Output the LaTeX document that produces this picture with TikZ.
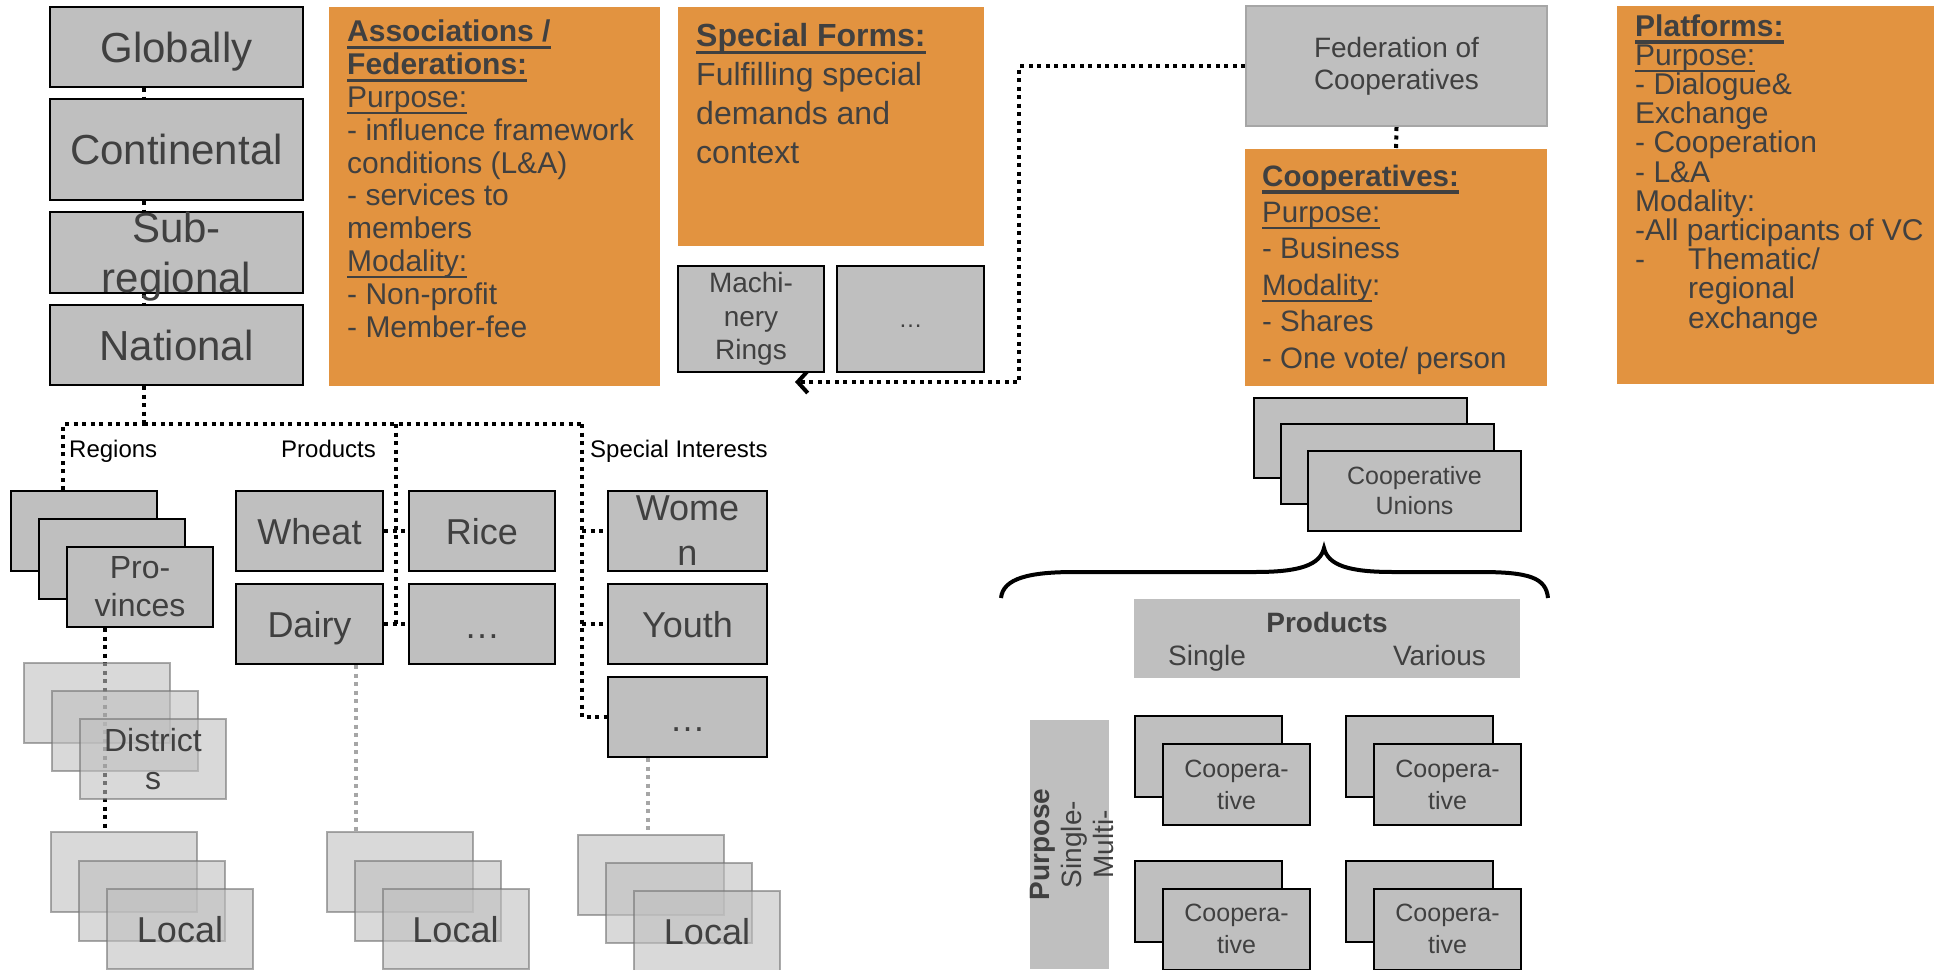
\documentclass[tikz,border=0pt]{standalone}
\usepackage{fontspec}
\setmainfont{Liberation Sans}
\usetikzlibrary{arrows.meta,backgrounds}

\definecolor{boxgray}{RGB}{191,191,191}
\definecolor{txtgray}{RGB}{64,64,64}
\definecolor{orangefill}{RGB}{226,147,64}
\definecolor{edgegray}{RGB}{166,166,166}

\newcommand{\fsz}[2]{\fontsize{#1pt}{#2pt}\selectfont}
\newsavebox{\ulinebox}
\newcommand{\ulthin}[1]{\sbox{\ulinebox}{#1}\rlap{\rule[-6.5pt]{\wd\ulinebox}{2.2pt}}\usebox{\ulinebox}}
\newcommand{\ulthick}[1]{\sbox{\ulinebox}{\bfseries #1}\rlap{\rule[-7.5pt]{\wd\ulinebox}{3.5pt}}\usebox{\ulinebox}}

\tikzstyle{tierbox} = [rectangle, draw=black, line width=2pt, fill=boxgray, text=txtgray, align=center, inner sep=0pt, minimum width=146pt, minimum height=80pt]
\tikzstyle{faintbox} = [rectangle, draw=black!55, draw opacity=0.6, line width=2pt, fill=boxgray, fill opacity=0.6, text opacity=1, text=txtgray, align=center, inner sep=0pt, minimum width=146pt, minimum height=80pt]
\tikzstyle{infobox} = [rectangle, fill=orangefill, inner sep=0pt]
\tikzstyle{infotext} = [anchor=base west, align=left, text=txtgray, inner sep=0pt]
\tikzstyle{flatbox} = [rectangle, fill=boxgray, text=txtgray, align=center, inner sep=0pt]
\tikzstyle{oneline} = [text height=33pt, text depth=6pt]
\tikzstyle{dotline} = [line width=4pt, dash pattern=on 4pt off 4.5pt]
\tikzstyle{greydot} = [dotline, draw=edgegray]
\tikzstyle{arrow} = [dotline, -{Straight Barb[length=10pt,width=22pt]}]
\tikzstyle{grouplabel} = [anchor=base west, inner sep=0pt, font=\fsz{24}{28}]

\begin{document}
\begin{tikzpicture}[x=1pt, y=-1pt]
\useasboundingbox (0,0) rectangle (1946,969);

\node (glob) [tierbox, minimum width=253pt, font=\fsz{42}{50}, text height=39pt, text depth=9pt] at (176.5,47) {Globally};
\node (cont) [tierbox, minimum width=253pt, minimum height=101pt, font=\fsz{42}{50}, text height=39pt, text depth=9pt] at (176.5,149.5) {Continental};
\node (subr) [tierbox, minimum width=253pt, minimum height=81pt, font=\fsz{42}{50}, text height=80pt, text depth=1pt] at (176.5,252.5) {Sub-\\regional};
\node (nat) [tierbox, minimum width=253pt, font=\fsz{42}{50}, text height=39pt, text depth=9pt] at (176.5,345) {National};

\node (assoc) [infobox, minimum width=331pt, minimum height=379pt] at (494.5,196.5) {};
\node (assocTxt) [infotext, font=\fsz{30}{32.8}] at (347,337) {\ulthick{Associations /}\\\ulthick{Federations:}\\\ulthin{Purpose:}\\- influence framework\\conditions (L\&A)\\- services to\\members\\\ulthin{Modality:}\\- Non-profit\\- Member-fee};

\node (specForms) [infobox, minimum width=306pt, minimum height=239pt] at (831,126.5) {};
\node (specTxt) [infotext, font=\fsz{32}{38.7}] at (696,163) {\ulthick{Special Forms:}\\Fulfilling special\\demands and\\context};
\node (rings) [tierbox, minimum height=106pt, font=\fsz{28}{33.5}] at (751,319) {Machi-\\nery\\Rings};
\node (dotsF) [tierbox, minimum width=147pt, minimum height=106pt, font=\fsz{24}{28}, text height=18pt, text depth=2pt] at (910.5,319) {…};

\node (fed) [tierbox, draw=edgegray, minimum width=301pt, minimum height=120pt, font=\fsz{28}{32}] at (1396.5,66) {Federation of\\Cooperatives};
\node (coopBox) [infobox, minimum width=302pt, minimum height=237pt] at (1396,267.5) {};
\node (coopTxt) [infotext, font=\fsz{29.5}{36.4}] at (1262,368) {\ulthick{Cooperatives:}\\\ulthin{Purpose:}\\- Business\\\ulthin{Modality}:\\- Shares\\- One vote/ person};

\node (platforms) [infobox, minimum width=317pt, minimum height=378pt] at (1775.5,195) {};
\node (platTxt) [infotext, font=\fsz{30}{29.2}] at (1635,328) {\ulthick{Platforms:}\\\ulthin{Purpose:}\\- Dialogue\&\\Exchange\\- Cooperation\\- L\&A\\Modality:\\-All participants of VC\\\makebox[53pt][l]{-}Thematic/\\\hspace*{53pt}regional\\\hspace*{53pt}exchange};

\node (regionsLbl) [grouplabel] at (69,457) {Regions};
\node (productsLbl) [grouplabel] at (281,457) {Products};
\node (interestsLbl) [grouplabel] at (590,457) {Special Interests};

\node (prov1) [tierbox] at (84,531) {};
\node (prov2) [tierbox] at (112,559) {};
\node (prov3) [tierbox, font=\fsz{32}{38}] at (140,587) {Pro-\\vinces};

\node (wheat) [tierbox, minimum width=147pt, font=\fsz{36}{45}, oneline] at (309.5,531) {Wheat};
\node (rice) [tierbox, font=\fsz{36}{45}, oneline] at (482,531) {Rice};
\node (dairy) [tierbox, minimum width=147pt, font=\fsz{36}{45}, oneline] at (309.5,624) {Dairy};
\node (dotsP) [tierbox, font=\fsz{36}{45}, text height=28pt, text depth=0pt] at (482,624) {…};

\node (women) [tierbox, minimum width=159pt, font=\fsz{36}{45}] at (687.5,531) {Wome\\n};
\node (youth) [tierbox, minimum width=159pt, font=\fsz{36}{45}, oneline] at (687.5,624) {Youth};
\node (dotsS) [tierbox, minimum width=159pt, font=\fsz{36}{45}, text height=28pt, text depth=0pt] at (687.5,717) {…};

\node (dist1) [faintbox] at (97,703) {};
\node (dist2) [faintbox] at (125,731) {};
\node (dist3) [faintbox, font=\fsz{32}{38}] at (153,759) {District\\s};

\node (loc1a) [faintbox] at (124,872) {};
\node (loc1b) [faintbox] at (152,901) {};
\node (loc1c) [faintbox, font=\fsz{36}{45}, oneline] at (180,929) {Local};
\node (loc2a) [faintbox] at (399.5,872) {};
\node (loc2b) [faintbox] at (427.5,901) {};
\node (loc2c) [faintbox, font=\fsz{36}{45}, oneline] at (455.5,929) {Local};
\node (loc3a) [faintbox] at (651,875) {};
\node (loc3b) [faintbox] at (679,903) {};
\node (loc3c) [faintbox, font=\fsz{36}{45}, oneline] at (707,931) {Local};

\node (un1) [tierbox, minimum width=213pt] at (1360.5,438) {};
\node (un2) [tierbox, minimum width=213pt] at (1387.5,464) {};
\node (un3) [tierbox, minimum width=213pt, font=\fsz{25}{30}] at (1414.5,491) {Cooperative\\Unions};

\draw [line width=4pt] (1001,598) .. controls (1003,578) and (1030,572) .. (1075,572) -- (1255,572) .. controls (1300,572) and (1320,565) .. (1324,548) .. controls (1328,565) and (1348,572) .. (1393,572) -- (1480,572) .. controls (1530,572) and (1546,578) .. (1548,598);

\node (prodHead) [flatbox, minimum width=386pt, minimum height=79pt, text height=60pt, text depth=7pt, font=\fsz{28}{33}] at (1327,638.5) {\textbf{Products}\\Single\hspace{147pt}Various};
\node (purposeSide) [flatbox, minimum width=79pt, minimum height=249pt] at (1069.5,844.5) {};
\node (purposeTxt) [rotate=90, anchor=base, align=center, inner sep=0pt, text=txtgray, font=\fsz{28}{32}] at (1113,844.5) {\textbf{Purpose}\\Single-\\Multi-};

\node (coopA1) [tierbox, minimum width=147pt, minimum height=81pt] at (1208.5,756.5) {};
\node (coopA2) [tierbox, minimum width=147pt, minimum height=81pt, font=\fsz{25}{32}] at (1236.5,784.5) {Coopera-\\tive};
\node (coopB1) [tierbox, minimum width=147pt, minimum height=81pt] at (1419.5,756.5) {};
\node (coopB2) [tierbox, minimum width=147pt, minimum height=81pt, font=\fsz{25}{32}] at (1447.5,784.5) {Coopera-\\tive};
\node (coopC1) [tierbox, minimum width=147pt, minimum height=81pt] at (1208.5,901.5) {};
\node (coopC2) [tierbox, minimum width=147pt, minimum height=81pt, font=\fsz{25}{32}] at (1236.5,929) {Coopera-\\tive};
\node (coopD1) [tierbox, minimum width=147pt, minimum height=81pt] at (1419.5,901.5) {};
\node (coopD2) [tierbox, minimum width=147pt, minimum height=81pt, font=\fsz{25}{32}] at (1447.5,929) {Coopera-\\tive};

\begin{pgfonlayer}{background}
\draw [dotline] ([xshift=-33pt]glob.south) -- ([xshift=-33pt]cont.north);
\draw [dotline] ([xshift=-33pt]cont.south) -- ([xshift=-33pt]subr.north);
\draw [dotline] ([xshift=-33pt]subr.south) -- ([xshift=-33pt]nat.north);
\coordinate (bus) at (143.5,424);
\coordinate (prodBus) at (396,424);
\coordinate (siBus) at (582,424);
\draw [dotline] ([xshift=-33pt]nat.south) -- (bus);
\draw [dotline] ([xshift=-21pt]prov1.north) |- (bus);
\draw [dotline] (bus) -- (prodBus) -- (siBus);
\draw [dotline] (prodBus) -- (prodBus |- dairy.east);
\draw [dotline] (wheat.east) -- (rice.west);
\draw [dotline] (dairy.east) -- (dotsP.west);
\draw [dotline] (siBus) |- (dotsS.west);
\draw [dotline] (siBus |- women.west) -- (women.west);
\draw [dotline] (siBus |- youth.west) -- (youth.west);
\draw [dotline] ([xshift=-35pt]prov3.south) -- ([xshift=-35pt]prov3.south |- loc1a.north);
\draw [greydot] ([xshift=46.5pt]dairy.south) -- ([xshift=46.5pt]dairy.south |- loc2a.north);
\draw [greydot] ([xshift=-39.5pt]dotsS.south) -- ([xshift=-39.5pt]dotsS.south |- loc3a.north);
\draw [dotline] (fed.south) -- (coopBox.north);
\coordinate (turn) at (1019,382);
\coordinate (ringsIn) at (795,382);
\draw [arrow] (fed.west) -| (turn) -- (ringsIn);
\end{pgfonlayer}
\end{tikzpicture}
\end{document}
